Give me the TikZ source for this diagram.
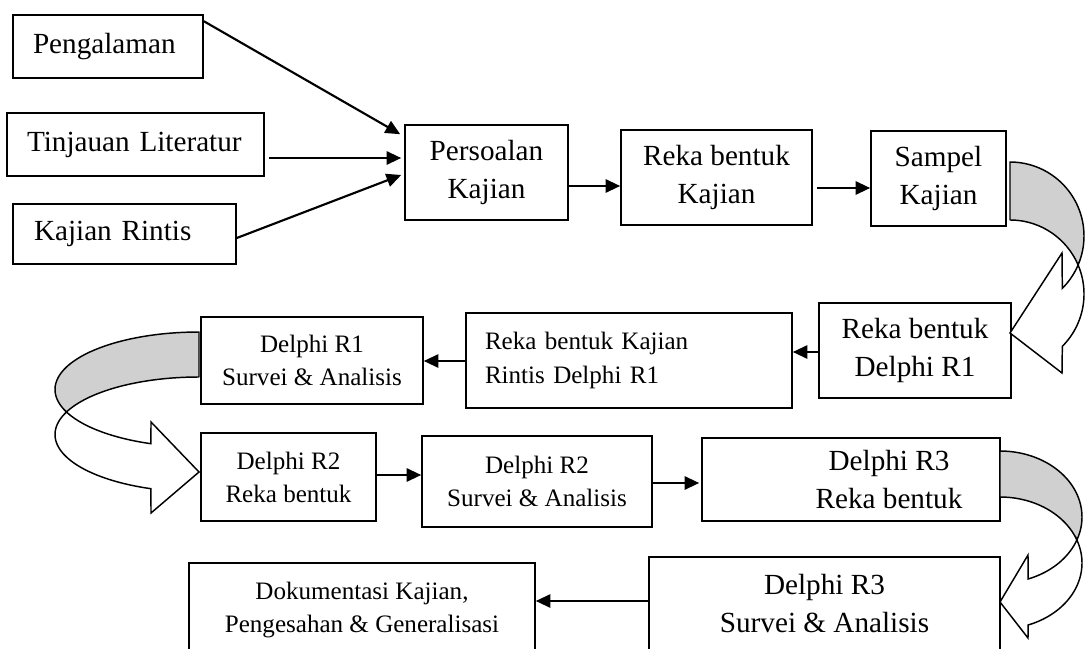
\documentclass[tikz,border=0pt]{standalone}
\usepackage{fontspec}
\setmainfont{Liberation Serif}
\usetikzlibrary{arrows.meta,calc}
\definecolor{bandgray}{RGB}{208,208,208}
\begin{document}
\begin{tikzpicture}[x=0.75pt,y=-0.75pt,
  box/.style={draw, line width=1.2pt, rectangle, inner sep=0pt, align=center},
  big/.style={font=\fontsize{21.9pt}{28.5pt}\selectfont},
  small/.style={font=\fontsize{18.8pt}{24.8pt}\selectfont},
  flow/.style={line width=1.6pt, -{Triangle[length=11pt,width=10pt]}},
  band/.style={line width=1.1pt, line join=round, fill=bandgray},
  bandfront/.style={line width=1.1pt, line join=miter, fill=white}]
\useasboundingbox (0,0) rectangle (1085,649);
\fill[white] (0,0) rectangle (1085,649);
\begin{scope}
\clip (0,0) rectangle (1085,649);

% input boxes
\node[box,big,text width=112.5pt,inner xsep=15pt,align=left,minimum height=47.25pt] (peng) at (108,46.5) {Pengalaman};
\node[box,big,text width=162.75pt,inner xsep=15pt,align=left,minimum height=47.25pt] (tinj) at (135.5,144.5) {Tinjauan Literatur};
\node[box,big,text width=135.75pt,inner xsep=15.75pt,align=left,minimum height=45pt] (rint) at (124.5,234) {Kajian Rintis};

% first row
\node[box,big,minimum width=122.25pt,minimum height=71.25pt] (pers) at (486.5,172.5) {Persoalan\\Kajian};
\node[box,big,minimum width=143.25pt,minimum height=71.25pt] (rekak) at (716.5,177.5) {Reka bentuk\\Kajian};
\node[box,big,minimum width=101.25pt,minimum height=71.25pt] (samp) at (938.5,178.5) {Sampel\\Kajian};

% second row
\node[box,big,minimum width=144pt,minimum height=71.25pt] (rd1) at (915,350.5) {Reka bentuk\\Delphi R1};
\node[box,small,text width=216pt,inner xsep=14.25pt,align=left,minimum height=71.25pt] (prd1) at (629,360.5) {Reka bentuk Kajian\\Rintis Delphi R1};
\node[box,small,minimum width=166.5pt,minimum height=65.25pt] (s1) at (312,360.5) {Delphi R1\\Survei \& Analisis};

% third row
\node[box,small,minimum width=131.25pt,minimum height=66pt] (r2r) at (288.5,477) {Delphi R2\\Reka bentuk};
\node[box,small,minimum width=172.5pt,minimum height=68.25pt] (r2s) at (537,481.5) {Delphi R2\\Survei \& Analisis};
\node[box,minimum width=223.5pt,minimum height=62.25pt,
      label={[big,align=center,xshift=28.5pt]center:Delphi R3\\Reka bentuk}] (r3r) at (851,479.5) {};

% last row
\node[box,big,minimum width=263.25pt,minimum height=70.5pt] (r3s) at (824.5,604) {Delphi R3\\Survei \& Analisis};
\node[box,small,minimum width=259.5pt,minimum height=70.5pt] (doku) at (362,610) {Dokumentasi Kajian,\\Pengesahan \& Generalisasi};

% straight connectors
\draw[flow] ($(peng.north east)+(0,7)$) -- ($(pers.north west)+(-4,10)$);
\draw[flow] ($(tinj.east)+(4,13.5)$) -- ($(pers.west)+(-3,-14.5)$);
\draw[flow] ($(rint.east)+(0,4)$) -- ($(pers.west)+(-3,2.5)$);
\draw[flow] ($(pers.east)+(0,13.5)$) -- ($(rekak.west)+(0,8.5)$);
\draw[flow] ($(rekak.east)+(4,10.5)$) -- ($(samp.west)+(0,9.5)$);
\draw[flow] ($(rd1.west)+(0,1.5)$) -- ($(prd1.east)+(0,-8.5)$);
\draw[flow] ($(prd1.west)+(0,0.5)$) -- ($(s1.east)+(0,0.5)$);
\draw[flow] ($(r2r.east)+(0,-2)$) -- ($(r2s.west)+(0,-6.5)$);
\draw[flow] ($(r2s.east)+(0,1.5)$) -- ($(r3r.west)+(-2,3.5)$);
\draw[flow] ($(r3s.west)+(0,-3)$) -- ($(doku.east)+(0,-9)$);

% curved band arrow: Sampel Kajian -> Reka bentuk Delphi R1
\draw[band] plot[domain=-90:23,samples=40] ({1010+74*cos(\x)},{236+74*sin(\x)})
  -- plot[domain=-23:-90,samples=40] ({1010+74*cos(\x)},{294+74*sin(\x)}) -- cycle;
\draw[bandfront] plot[domain=-23:45,samples=40] ({1010+74*cos(\x)},{294+74*sin(\x)})
  -- (1062,373) -- (1010,333) -- (1062,253)
  -- plot[domain=45:23,samples=20] ({1010+74*cos(\x)},{236+74*sin(\x)}) -- cycle;

% curved band arrow: Delphi R1 Survei -> Delphi R2 Reka bentuk
\draw[band] plot[domain=270:157,samples=40] ({199+144*cos(\x)},{389.5+57.5*sin(\x)})
  -- plot[domain=203:270,samples=40] ({199+144*cos(\x)},{434.5+57.5*sin(\x)}) -- cycle;
\draw[bandfront] plot[domain=203:109.5,samples=40] ({199+144*cos(\x)},{434.5+57.5*sin(\x)})
  -- (151,513) -- (199,472) -- (151,422)
  -- plot[domain=109.5:157,samples=20] ({199+144*cos(\x)},{389.5+57.5*sin(\x)}) -- cycle;

% curved band arrow: Delphi R3 Reka bentuk -> Delphi R3 Survei
\draw[band] plot[domain=-90:20.4,samples=40] ({1000+82*cos(\x)},{517+66*sin(\x)})
  -- plot[domain=-20.4:-90,samples=40] ({1000+82*cos(\x)},{563+66*sin(\x)}) -- cycle;
\draw[bandfront] plot[domain=-20.4:70,samples=40] ({1000+82*cos(\x)},{563+66*sin(\x)})
  -- (1028,638) -- (1000,602) -- (1028,555)
  -- plot[domain=70:20.4,samples=20] ({1000+82*cos(\x)},{517+66*sin(\x)}) -- cycle;
\end{scope}
\end{tikzpicture}
\end{document}
